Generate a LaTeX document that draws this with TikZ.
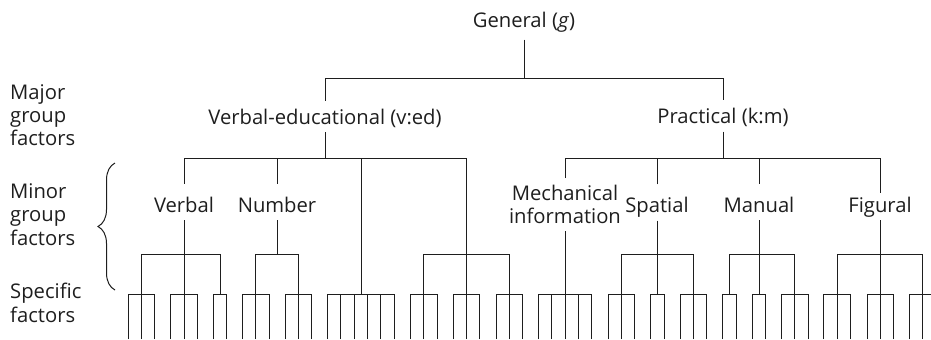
\documentclass[tikz,border=0pt]{standalone}
\usepackage{fontspec}
\setmainfont{Open Sans}
\usetikzlibrary{decorations.pathreplacing}
\definecolor{ink}{HTML}{1E1E1E}
\begin{document}
\begin{tikzpicture}[x=1bp,y=-1bp,
  conn/.style={draw=ink, line width=1bp},
  txt/.style={text=ink, font=\fontsize{20.3}{23.5}\selectfont, inner xsep=0pt, inner ysep=0pt},
  majorlbl/.style={txt, anchor=base, text height=23bp, text depth=8bp},
  minorlbl/.style={txt, anchor=base, text height=28bp, text depth=8bp},
  sidelbl/.style={txt, anchor=north west, align=left},
]
\useasboundingbox (0,0) rectangle (931,339);

% side labels
\node[sidelbl] (majL) at (10,84) {Major\\group\\factors};
\node[sidelbl] (minL) at (10,183.5) {Minor\\group\\factors};
\node[sidelbl] (speL) at (10,283) {Specific\\factors};
\draw[conn, decorate, decoration={brace, amplitude=17bp}] (115,290) -- (115,163);

% general factor
\node[txt, anchor=base, text height=14bp, text depth=12.3bp] (g) at (524,27) {General (\textit{g})};
\coordinate (gJ) at (524,78);
\node[majorlbl] (ved) at (325,124) {Verbal-educational (v:ed)};
\node[majorlbl] (km) at (723,123.5) {Practical (k:m)};
\draw[conn] (g) -- (gJ);
\draw[conn] (ved) -- (ved |- gJ) -- (km |- gJ) -- (km);

% major -> minor
\coordinate (vedB) at (325,158);
\coordinate (kmB) at (723,158);
\draw[conn] (ved) -- (vedB);
\draw[conn] (km) -- (kmB);

\node[minorlbl] (verbal) at (184,212) {Verbal};
\node[minorlbl] (number) at (277,212) {Number};
\coordinate (u6) at (361,294);
\coordinate (u3) at (466,254);
\node[txt, anchor=north, align=center, inner ysep=7bp] (mech) at (565,178) {Mechanical\\information};
\node[minorlbl] (spatial) at (657,212.5) {Spatial};
\node[minorlbl] (manual) at (759,212) {Manual};
\node[minorlbl, text height=19bp] (figural) at (880,212) {Figural};

\foreach \n in {verbal,number,u6,u3}
  \draw[conn] (\n) -- (\n |- vedB) -- (vedB);
\foreach \n in {mech,spatial,manual,figural}
  \draw[conn] (\n) -- (\n |- kmB) -- (kmB);

% minor -> bracket of specific groups
\draw[conn] (mech) -- (mech |- u6);
\foreach \n/\ps in {verbal/{141,184,220}, number/{255,298}, spatial/{621,657,693},
                    manual/{729,759,794}, figural/{837,880,922}} {
  \draw[conn] (\n) -- (\n |- u3) coordinate (\n-bar);
  \foreach \p in \ps
    \draw[conn] (\p,294) -- (\p,254) -- (\n-bar);
}
\foreach \p in {423,466,509}
  \draw[conn] (\p,294) -- (\p,254) -- (u3);

% specific factors
\foreach \p/\ls in {141/{128,141,154}, 184/{170,184,197}, 220/{213,226},
                    255/{242,255,269}, 298/{285,298,311},
                    361/{327.3,340.7,354.1,367.5,380.9,394.3},
                    423/{410,423,437}, 466/{453,466,479}, 509/{496,509,522},
                    565/{538.3,551.7,565,578.3,591.7},
                    621/{608,621,634}, 657/{650,664}, 693/{680,693,706},
                    729/{722,736}, 759/{752,765}, 794/{781,794,808},
                    837/{823,837,850}, 880/{867,880,893}, 922/{909,922}} {
  \coordinate (par-\p) at (\p,294);
  \foreach \x in \ls
    \draw[conn] (\x,339) -- (\x,294) -- (par-\p);
}
\coordinate (edgeR) at (931,294);
\draw[conn] (par-922) -- (edgeR);
\end{tikzpicture}
\end{document}
